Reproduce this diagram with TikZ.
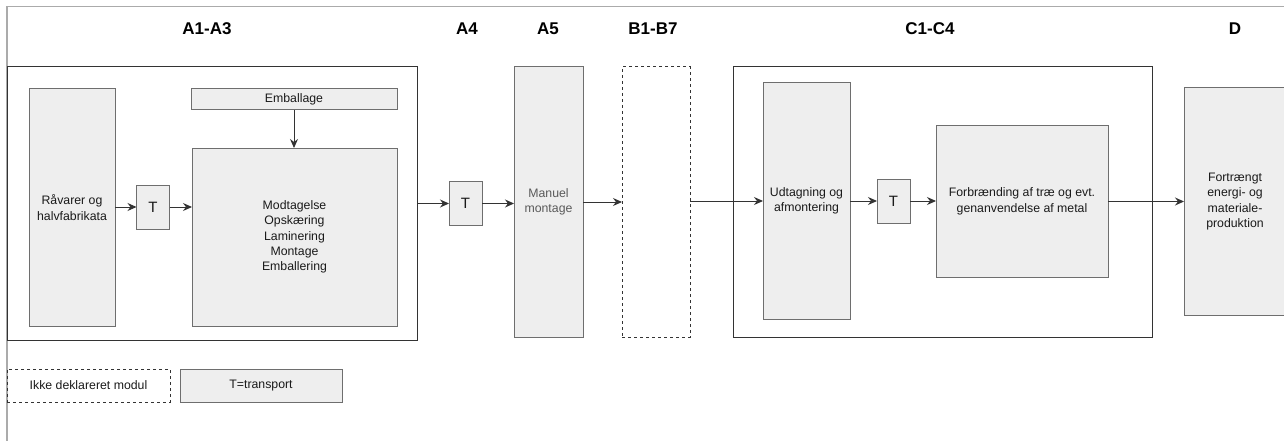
\documentclass[tikz,border=0pt]{standalone}
\usepackage{fontspec}
\setmainfont{Liberation Sans}
\usetikzlibrary{arrows.meta}
\definecolor{boxfill}{HTML}{EEEEEE}
\definecolor{boxline}{HTML}{6E6E6E}
\definecolor{groupline}{HTML}{333333}
\definecolor{frameline}{HTML}{ABABAB}
\definecolor{txt}{HTML}{1A1A1A}
\definecolor{softtxt}{HTML}{5A5A5A}
\tikzset{
  group/.style={rectangle, draw=groupline, line width=1pt, inner sep=0pt, outer sep=0pt},
  proc/.style={rectangle, draw=boxline, fill=boxfill, line width=1pt, inner sep=0pt, outer sep=0pt,
    align=center, text=txt, font=\fontsize{12.3}{15.4}\selectfont},
  tbox/.style={proc, minimum width=33pt, minimum height=44pt, font=\fontsize{15}{18}\selectfont},
  open/.style={rectangle, draw=groupline, line width=1pt, dash pattern=on 3pt off 3pt,
    inner sep=0pt, outer sep=0pt, align=center, text=txt, font=\fontsize{12.3}{15.4}\selectfont},
  stage/.style={font=\fontsize{17}{20}\selectfont\bfseries, text=black, inner sep=0pt},
  flow/.style={draw=groupline, line width=1pt, -{Stealth[length=9pt,width=8pt,inset=3pt]}},
}
\begin{document}
\begin{tikzpicture}[x=1pt,y=-1pt]
\useasboundingbox (0,0) rectangle (1284,441);

% outer frame (top and left edges)
\draw[frameline, line width=1.5pt] (7,442) -- (7,6.5) -- (1290,6.5);

% life-cycle stage headings
\node[stage] (hA13) at (207,29) {A1-A3};
\node[stage] (hA4)  at (467,29) {A4};
\node[stage] (hA5)  at (548,29) {A5};
\node[stage] (hB)   at (653,29) {B1-B7};
\node[stage] (hC)   at (930,29) {C1-C4};
\node[stage] (hD)   at (1235,29) {D};

% A1-A3 production group
\node[group, minimum width=410pt, minimum height=273pt] (a13) at (212,203.5) {};
\node[proc, minimum width=86pt, minimum height=237pt] (rav) at (72,207.5) {Råvarer og\\halvfabrikata};
\node[tbox] (t1) at (153,207) {T};
\node[proc, minimum width=206pt, minimum height=21pt] (emb) at (294,99.5) {Emballage};
\node[proc, minimum width=205pt, minimum height=178pt] (mod) at (294.5,237)
  {Modtagelse\\Opskæring\\Laminering\\Montage\\Emballering};

% A4 transport, A5 installation, B use stage
\node[tbox] (t2) at (465.5,203.5) {T};
\node[proc, minimum width=69pt, minimum height=270pt, text=softtxt] (a5) at (548.5,202) {Manuel\\montage};
\node[open, minimum width=68pt, minimum height=270pt] (bb) at (656,202) {};

% C1-C4 end-of-life group
\node[group, minimum width=419pt, minimum height=270pt] (cgrp) at (942.5,202) {};
\node[proc, minimum width=87pt, minimum height=236pt] (udt) at (806.5,201) {Udtagning og\\afmontering};
\node[tbox] (t3) at (893.5,201) {T};
\node[proc, minimum width=172pt, minimum height=151pt] (forb) at (1022,201.5)
  {Forbrænding af træ og evt.\\genanvendelse af metal};

% D benefits beyond the system boundary
\node[proc, minimum width=102pt, minimum height=227pt] (dbox) at (1235,201.5)
  {Fortrængt\\energi- og\\materiale-\\produktion};

% legend
\node[open, minimum width=163pt, minimum height=33pt] (legopen) at (88.5,385.5) {Ikke deklareret modul};
\node[proc, minimum width=162pt, minimum height=33pt] (legt) at (261,385.5) {T=transport};

% flows
\draw[flow] (t1.west -| rav.east) -- (t1.west);
\draw[flow] (t1.east) -- (t1.east -| mod.west);
\draw[flow] (emb.south) -- (emb.south |- mod.north);
\draw[flow] (t2.west -| a13.east) -- (t2.west);
\draw[flow] (t2.east) -- (t2.east -| a5.west);
\draw[flow] (a5.east) -- (bb.west);
\draw[flow] (udt.west -| bb.east) -- (udt.west);
\draw[flow] (udt.east) -- (t3.west);
\draw[flow] (t3.east) -- (t3.east -| forb.west);
\draw[flow] (forb.east) -- (forb.east -| dbox.west);
\end{tikzpicture}
\end{document}
